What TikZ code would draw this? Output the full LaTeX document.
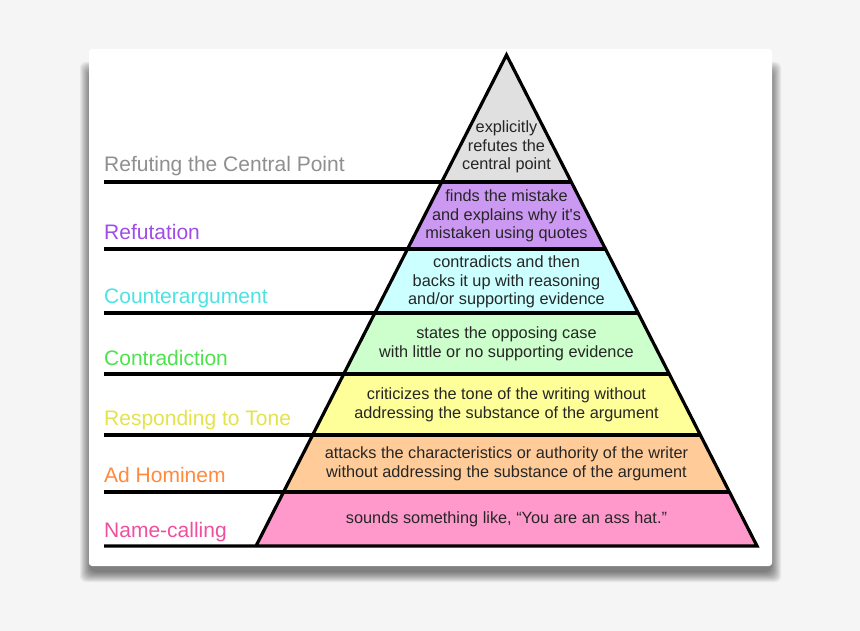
\documentclass[tikz,border=0pt]{standalone}
\usepackage{fontspec}
\setmainfont{Liberation Sans}[Ligatures=TeXOff]
\usepackage{xcolor}
\usepackage{tikz}
\usetikzlibrary{calc}
\definecolor{Page}{HTML}{F5F5F5}
\definecolor{FillTop}{HTML}{E0E0E0}
\definecolor{FillRef}{HTML}{CC99F2}
\definecolor{FillCounter}{HTML}{CCFFFF}
\definecolor{FillContra}{HTML}{CCFFCC}
\definecolor{FillTone}{HTML}{FFFF99}
\definecolor{FillAdHom}{HTML}{FFCC99}
\definecolor{FillName}{HTML}{FF99CC}
\definecolor{LblTop}{HTML}{8F8F8F}
\definecolor{LblRef}{HTML}{A04DE8}
\definecolor{LblCounter}{HTML}{4DE3E3}
\definecolor{LblContra}{HTML}{4DE34D}
\definecolor{LblTone}{HTML}{E3E34D}
\definecolor{LblAdHom}{HTML}{FF8A3D}
\definecolor{LblName}{HTML}{F04F9F}

\begin{document}
\begin{tikzpicture}[x=1pt,y=-1pt,
    rule/.style={draw=black,line width=3.2pt,line join=miter},
    lbl/.style={anchor=base west,inner sep=0pt,font=\fontsize{21}{24}\selectfont},
    txt/.style={align=center,inner sep=0pt,text=black!85,font=\fontsize{16.3}{18.5}\selectfont}]
    % page and card
    \fill[Page] (0,0) rectangle (860,631);
    \useasboundingbox (0,0) rectangle (860,631);
    \foreach \s in {0,...,10}
      \fill[black,opacity=0.055,rounded corners=6] (80+\s,62+\s) rectangle (781-\s,582-\s);
    \fill[white,rounded corners=3] (89,49) rectangle (772,566);
    % tiers of the pyramid
    \foreach \yt/\yb/\fc in {55/182/FillTop,182/249/FillRef,249/313/FillCounter,313/374/FillContra,374/435/FillTone,435/492/FillAdHom,492/546/FillName}
      \fill[\fc] ({506.5-0.51018*(\yt-55)},\yt) -- ({506.5+0.51018*(\yt-55)},\yt)
        -- ({506.5+0.51018*(\yb-55)},\yb) -- ({506.5-0.51018*(\yb-55)},\yb) -- cycle;
    \foreach \y in {182,249,313,374,435,492}
      \draw[rule] (104,\y) -- ({506.5+0.51018*(\y-55)},\y);
    \draw[rule] (104,546) -- (757,546) -- (506.5,55) -- (256,546);
    % texts inside
    \node[txt] (t1) at (506.5,147) {explicitly\\refutes the\\central point};
    \node[txt] (t2) at (506.5,216) {finds the mistake\\and explains why it's\\mistaken using quotes};
    \node[txt] (t3) at (506.5,282) {contradicts and then\\backs it up with reasoning\\and/or supporting evidence};
    \node[txt] (t4) at (506.5,344) {states the opposing case\\with little or no supporting evidence};
    \node[txt] (t5) at (506.5,405) {criticizes the tone of the writing without\\addressing the substance of the argument};
    \node[txt] (t6) at (506.5,464) {attacks the characteristics or authority of the writer\\without addressing the substance of the argument};
    \node[txt] (t7) at (506.5,519) {sounds something like, “You are an ass hat.”};
    % labels on the left
    \node[lbl,text=LblTop] (l1) at (104,172) {Refuting the Central Point};
    \node[lbl,text=LblRef] (l2) at (104,240) {Refutation};
    \node[lbl,text=LblCounter] (l3) at (104,304) {Counterargument};
    \node[lbl,text=LblContra] (l4) at (104,365) {Contradiction};
    \node[lbl,text=LblTone] (l5) at (104,425) {Responding to Tone};
    \node[lbl,text=LblAdHom] (l6) at (104,482) {Ad Hominem};
    \node[lbl,text=LblName] (l7) at (104,537) {Name-calling};
  \end{tikzpicture}
\end{document}
